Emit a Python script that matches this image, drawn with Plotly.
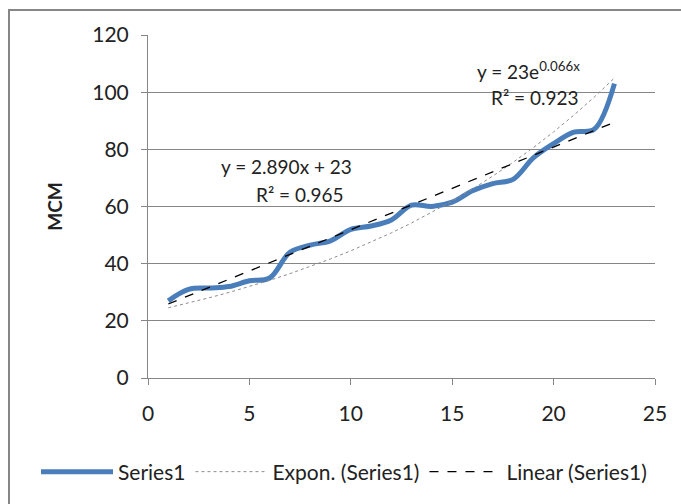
import numpy as np
import plotly.graph_objects as go

x_vals = list(range(1, 24))
series1 = [27, 31, 31.5, 32, 34, 35, 44, 46.5, 48, 52, 53.2, 55.3, 60.5, 60, 61.5,
           65.5, 68, 69.5, 77, 82, 86, 87, 103]
x_ticks = [0, 5, 10, 15, 20, 25]
y_ticks = [0, 20, 40, 60, 80, 100, 120]
# trendline coefficients as printed on the chart
lin_slope, lin_intercept = 2.890, 23.0
exp_a, exp_b = 23.0, 0.066

xa = np.array(x_vals, dtype=float)
lin_y = lin_slope * xa + lin_intercept
exp_y = exp_a * np.exp(exp_b * xa)

FONT = "Lato"
W, H = 681, 504
L, R, T, B = 148, 26, 35, 126
PW, PH = W - L - R, H - T - B

fig = go.Figure()
fig.add_trace(go.Scatter(x=x_vals, y=series1, mode="lines", name="Series1",
                         line=dict(color="#4A7EBB", width=5, shape="spline", smoothing=1.0)))
fig.add_trace(go.Scatter(x=x_vals, y=exp_y, mode="lines", name="Expon. (Series1)",
                         line=dict(color="#8C8C8C", width=1, dash="dot")))
fig.add_trace(go.Scatter(x=x_vals, y=lin_y, mode="lines", name="Linear (Series1)",
                         line=dict(color="#000000", width=1.3, dash="dash")))

fig.update_layout(
    width=W, height=H,
    margin=dict(l=L, r=R, t=T, b=B),
    paper_bgcolor="white", plot_bgcolor="white",
    font=dict(family=FONT, size=21, color="#222222"),
    showlegend=True,
    legend=dict(orientation="h", x=(36 - L) / PW, xanchor="left",
                y=(H - B - 472) / PH, yanchor="middle",
                font=dict(size=21), itemwidth=72, tracegroupgap=0),
    xaxis=dict(range=[0, 25], tickvals=x_ticks, ticks="outside", ticklen=6,
               tickcolor="#868686", showline=True, linecolor="#868686", linewidth=1,
               showgrid=False, zeroline=False, tickfont=dict(size=21),
               ticklabelstandoff=11),
    yaxis=dict(range=[0, 120], tickvals=y_ticks, ticks="outside", ticklen=6,
               tickcolor="#868686", showline=True, linecolor="#868686", linewidth=1,
               showgrid=True, gridcolor="#868686", gridwidth=1, zeroline=False,
               tickfont=dict(size=21), ticklabelstandoff=8,
               title=dict(text="<b>MCM</b>", font=dict(size=19), standoff=24)),
    shapes=[dict(type="rect", xref="paper", yref="paper",
                 x0=(9 - L) / PW, x1=(700 - L) / PW,
                 y0=(H - B - 520) / PH, y1=(H - B - 10) / PH,
                 line=dict(color="#868686", width=2), layer="below")],
)

ann = [("y = 2.890x + 23", 286, 166), ("R² = 0.965", 300, 194),
       ("y = 23e<sup>0.066x</sup>", 528, 70), ("R² = 0.923", 535, 97)]
for text, px, py in ann:
    fig.add_annotation(text=text, x=(px - L) / PW, y=(H - B - py) / PH,
                       xref="paper", yref="paper", showarrow=False,
                       xanchor="center", yanchor="middle", font=dict(size=19))

fig.write_html("out.html")
